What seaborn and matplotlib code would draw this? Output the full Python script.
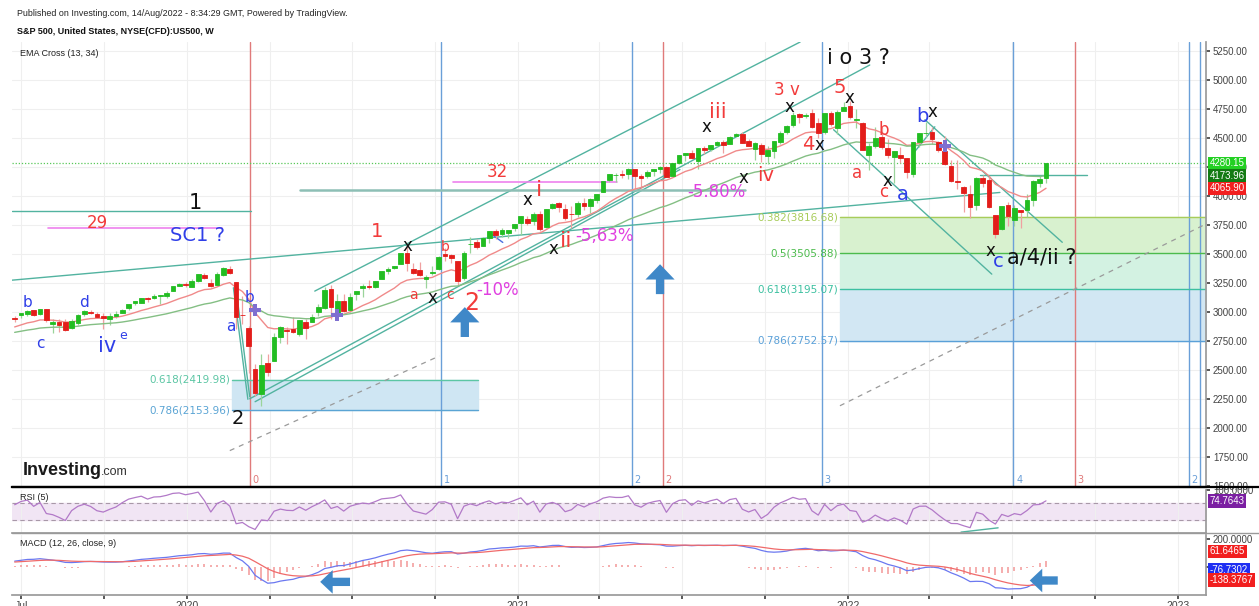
import numpy as np
import pandas as pd
import seaborn as sns
import matplotlib.pyplot as plt
import matplotlib.dates as mdates
import matplotlib.transforms as mtransforms
from matplotlib.lines import Line2D
from matplotlib.ticker import FixedLocator, FuncFormatter

# weekly US500 candles, first week starts 2019-06-24, last week 2022-08-08
first_week = "2019-06-24"
open_ = [2951, 2971, 2980, 3017, 2981, 3024, 2899, 2916, 2913, 2866, 2909, 2988, 3001, 2984,
         2967, 2944, 2965, 2996, 3032, 3078, 3080, 3118, 3118, 3143, 3141, 3183, 3223,
         3240, 3217, 3271, 3321, 3248, 3236, 3318, 3370, 3258, 2974, 2864, 2509, 2291,
         2559, 2578, 2782, 2845, 2854, 2815, 2915, 2913, 3004, 3038, 3199, 2993, 3094,
         3018, 3155, 3205, 3224, 3219, 3288, 3356, 3380, 3418, 3509, 3371, 3363, 3285,
         3333, 3367, 3500, 3493, 3441, 3296, 3583, 3600, 3566, 3634, 3694, 3675, 3684, 3723,
         3764, 3803, 3781, 3842, 3731, 3892, 3939, 3886, 3842, 3844, 3942, 3916, 3969,
         4034, 4135, 4179, 4185, 4191, 4228, 4169, 4170, 4216, 4229, 4248, 4173, 4284,
         4356, 4372, 4297, 4409, 4406, 4437, 4461, 4450, 4514, 4535, 4474, 4402, 4442,
         4348, 4385, 4463, 4553, 4610, 4701, 4689, 4712, 4628, 4548, 4710, 4587, 4733,
         4778, 4655, 4632, 4356, 4432, 4505, 4412, 4332, 4354, 4328, 4188, 4462, 4541,
         4547, 4462, 4385, 4255, 4130, 4081, 4013, 3919, 4151, 4134, 3838, 3715, 3920,
         3792, 3880, 3883, 3965, 4112, 4155]
high = [2964, 2996, 3018, 3018, 3028, 3029, 2944, 2943, 2939, 2940, 2986, 3021, 3022, 2999,
        2993, 2993, 3008, 3027, 3067, 3098, 3121, 3128, 3154, 3150, 3183, 3226, 3248,
        3258, 3283, 3330, 3338, 3286, 3348, 3385, 3394, 3260, 3137, 2883, 2554, 2637,
        2641, 2819, 2879, 2870, 2955, 2932, 2945, 2980, 3069, 3212, 3233, 3156, 3155,
        3166, 3186, 3238, 3279, 3272, 3353, 3388, 3400, 3509, 3588, 3426, 3429, 3320,
        3397, 3485, 3550, 3502, 3441, 3529, 3646, 3629, 3644, 3700, 3712, 3727, 3711, 3760,
        3827, 3824, 3862, 3871, 3889, 3937, 3950, 3929, 3915, 3960, 3984, 3978, 4021,
        4130, 4191, 4194, 4219, 4238, 4236, 4189, 4220, 4234, 4255, 4258, 4286, 4355,
        4373, 4394, 4416, 4430, 4441, 4469, 4480, 4513, 4546, 4550, 4493, 4465, 4458,
        4430, 4476, 4560, 4608, 4719, 4715, 4718, 4744, 4673, 4714, 4732, 4741, 4809,
        4819, 4749, 4633, 4453, 4595, 4590, 4490, 4385, 4417, 4328, 4466, 4546, 4637,
        4594, 4471, 4513, 4309, 4308, 4082, 4091, 4159, 4178, 4169, 3838, 3914, 3946,
        3919, 3881, 4013, 4141, 4168, 4281]
low = [2912, 2952, 2964, 2966, 2975, 2914, 2822, 2826, 2834, 2853, 2892, 2963, 2985, 2946,
       2855, 2892, 2952, 2991, 3020, 3065, 3075, 3091, 3115, 3070, 3125, 3183, 3222,
       3212, 3215, 3263, 3282, 3215, 3235, 3315, 3328, 2856, 2901, 2479, 2281, 2192,
       2448, 2576, 2730, 2727, 2817, 2797, 2767, 2913, 2969, 3025, 2937, 2966, 3000,
       3000, 3101, 3128, 3200, 3204, 3284, 3329, 3369, 3414, 3350, 3329, 3313, 3210,
       3323, 3361, 3440, 3420, 3234, 3280, 3512, 3543, 3565, 3594, 3633, 3648, 3637, 3694,
       3663, 3750, 3749, 3694, 3725, 3884, 3866, 3789, 3723, 3819, 3883, 3854, 3936,
       4034, 4118, 4118, 4156, 4142, 4057, 4061, 4155, 4168, 4198, 4164, 4173, 4271,
       4300, 4321, 4233, 4360, 4385, 4421, 4368, 4450, 4513, 4458, 4428, 4306, 4289,
       4279, 4330, 4448, 4537, 4595, 4630, 4673, 4585, 4495, 4532, 4600, 4531, 4733,
       4663, 4582, 4395, 4223, 4414, 4401, 4327, 4115, 4280, 4158, 4162, 4424, 4506,
       4450, 4381, 4268, 4124, 4063, 3859, 3810, 3875, 4074, 3900, 3637, 3706, 3739,
       3742, 3722, 3819, 3911, 4080, 4112]
close = [2941.76, 2990.41, 3013.77, 2976.61, 3025.86, 2932.05, 2918.65, 2888.68, 2847.11,
         2926.46, 2978.71, 3007.39, 2992.07, 2961.79, 2952.01, 2970.27, 2986.20, 3022.55,
         3066.91, 3093.08, 3120.46, 3110.29, 3140.98, 3145.91, 3168.80, 3221.22, 3240.02,
         3234.85, 3265.35, 3329.62, 3295.47, 3225.52, 3327.71, 3380.16, 3337.75, 2954.22,
         2972.37, 2711.02, 2304.92, 2541.47, 2488.65, 2789.82, 2874.56, 2836.74, 2830.71,
         2929.80, 2863.70, 2955.45, 3044.31, 3193.93, 3041.31, 3097.74, 3009.05, 3130.01,
         3185.04, 3224.73, 3215.63, 3271.12, 3351.28, 3372.85, 3397.16, 3508.01, 3426.96,
         3340.97, 3319.47, 3298.46, 3348.44, 3477.13, 3483.81, 3465.39, 3269.96, 3509.44,
         3585.15, 3557.54, 3638.35, 3699.12, 3663.46, 3709.41, 3703.06, 3756.07,
         3824.68, 3768.25, 3841.47, 3714.24, 3886.83, 3934.83, 3906.71, 3811.15, 3841.94,
         3943.34, 3913.10, 3974.54, 4019.87, 4128.80, 4185.47, 4180.17, 4181.17, 4232.60,
         4173.85, 4155.86, 4204.11, 4229.89, 4247.44, 4166.45, 4280.70, 4352.34, 4369.55,
         4327.16, 4411.79, 4395.26, 4436.52, 4468.00, 4441.67, 4509.37, 4535.43, 4458.58,
         4432.99, 4455.48, 4357.04, 4391.34, 4471.37, 4544.90, 4605.38, 4697.53, 4682.85,
         4697.96, 4594.62, 4538.43, 4712.02, 4620.64, 4725.79, 4766.18,
         4677.03, 4662.85, 4397.94, 4431.85, 4500.53, 4418.64, 4348.87, 4384.65, 4328.87,
         4204.31, 4463.12, 4543.06, 4545.86, 4488.28, 4392.59, 4271.78, 4131.93, 4123.34,
         4023.89, 3901.36, 4158.24, 4108.54, 3900.86, 3674.84, 3911.74, 3825.33, 3899.38,
         3863.16, 3961.63, 4130.29, 4145.19, 4280.15]
# weekly closes Oct 2018 - Jun 2019, only used to warm up the indicators
warmup_close = [2885.57, 2767.13, 2767.78, 2658.69, 2723.06, 2781.01, 2736.27, 2632.56,
                2760.17, 2633.08, 2599.95, 2416.62, 2485.74, 2531.94, 2596.26, 2670.71,
                2664.76, 2706.53, 2707.88, 2775.60, 2792.67, 2803.69, 2743.07, 2822.48,
                2800.71, 2834.40, 2892.74, 2907.41, 2905.03, 2939.88, 2945.64, 2881.40,
                2859.53, 2826.06, 2752.06, 2873.34, 2886.98, 2950.46]

last_price = 4280.15
ema_tags = [4173.96, 4065.90]
rsi_tag = 74.7643
macd_tags = ["61.6465", "-76.7302", "-138.3767"]
macd_tag_y = [112, -22, -98]

# time cycle lines
cycle_dates = ["2020-03-10", "2020-10-08", "2021-05-07", "2021-06-10", "2021-12-03",
               "2022-07-03", "2022-09-09", "2023-01-13", "2023-01-25"]
cycle_labels = ["0", "1", "2", "2", "3", "4", "3", "2", ""]
cycle_kind = ["r", "b", "b", "r", "b", "b", "r", "b", "b"]

# fibonacci retracements
fib_left_ratio = ["0.618", "0.786"]
fib_left_level = [2419.98, 2153.96]
fib_left_span = ["2020-02-19", "2020-11-18"]
fib_right_ratio = ["0.382", "0.5", "0.618", "0.786"]
fib_right_level = [3816.68, 3505.88, 3195.07, 2752.57]
fib_right_start = "2021-12-23"

# drawn trend lines: (date1, price1, date2, price2)
teal_lines = [("2019-06-21", 3869, "2020-03-11", 3869),
              ("2022-05-27", 4178, "2022-09-22", 4178),
              ("2019-06-21", 3275, "2022-06-18", 4030),
              ("2020-05-21", 3181, "2021-11-09", 5325),
              ("2020-03-10", 2254, "2022-01-25", 5127),
              ("2020-03-16", 2229, "2021-06-29", 4227),
              ("2020-02-25", 3137, "2020-03-10", 2272),
              ("2020-02-21", 3210, "2020-03-08", 2250),
              ("2021-12-16", 4570, "2022-06-09", 3327),
              ("2022-03-27", 4656, "2022-08-26", 3601),
              ("2022-03-13", 4355, "2022-04-07", 4595)]
grey_teal_lines = [("2020-05-05", 4051, "2021-09-09", 4051)]
magenta_lines = [("2019-07-31", 3723, "2020-02-08", 3723),
                 ("2020-10-21", 4124, "2021-04-20", 4124)]
dashed_lines = [("2021-12-23", 2194, "2023-01-31", 3755),
                ("2020-02-17", 1808, "2020-10-06", 2623)]
blue_lines = [("2020-12-03", 3668, "2020-12-15", 3600)]

# wave labels: (text, date, price, colour, size)
RED, BLUE, MAG, BLK = "#f23b3b", "#2f3fe8", "#e040e0", "#111111"
wave_labels = [
    ("1", "2020-01-10", 3935, BLK, 15), ("29", "2019-09-23", 3764, RED, 12),
    ("SC1 ?", "2020-01-12", 3661, BLUE, 14),
    ("b", "2019-07-08", 3086, BLUE, 11), ("c", "2019-07-22", 2726, BLUE, 11),
    ("d", "2019-09-09", 3086, BLUE, 11), ("iv", "2019-10-04", 2709, BLUE, 15),
    ("e", "2019-10-22", 2795, BLUE, 9),
    ("a", "2020-02-18", 2880, BLUE, 11), ("b", "2020-03-10", 3129, BLUE, 11),
    ("2", "2020-02-26", 2083, BLK, 14), ("1", "2020-07-29", 3695, RED, 14),
    ("b", "2020-10-12", 3558, RED, 10), ("a", "2020-09-07", 3146, RED, 10),
    ("c", "2020-10-18", 3146, RED, 10), ("2", "2020-11-11", 3078, RED, 17),
    ("-10%", "2020-12-09", 3189, MAG, 12), ("32", "2020-12-09", 4210, RED, 12),
    ("i", "2021-01-24", 4055, RED, 16), ("ii", "2021-02-23", 3609, RED, 16),
    ("-5,63%", "2021-04-06", 3652, MAG, 12), ("-5.80%", "2021-08-08", 4030, MAG, 12),
    ("iii", "2021-08-10", 4724, RED, 15), ("iv", "2021-10-02", 4175, RED, 14),
    ("3", "2021-10-17", 4913, RED, 12), ("v", "2021-11-03", 4913, RED, 12),
    ("4", "2021-11-18", 4441, RED, 14), ("5", "2021-12-23", 4930, RED, 14),
    ("i o 3 ?", "2022-01-12", 5187, BLK, 15),
    ("a", "2022-01-11", 4200, RED, 12), ("b", "2022-02-09", 4570, RED, 12),
    ("c", "2022-02-09", 4038, RED, 12), ("a", "2022-03-03", 4012, BLUE, 14),
    ("b", "2022-03-24", 4681, BLUE, 14), ("c", "2022-06-16", 3438, BLUE, 14),
    ("a/4/ii ?", "2022-08-03", 3472, BLK, 15),
]
x_marks = [("2020-09-01", 3573), ("2020-09-28", 3120), ("2021-01-11", 3969),
           ("2021-02-09", 3541), ("2021-07-28", 4595), ("2021-09-07", 4158),
           ("2021-10-28", 4767), ("2021-11-30", 4441), ("2022-01-03", 4844),
           ("2022-02-14", 4132), ("2022-04-04", 4724), ("2022-06-07", 3524)]
# big blue arrows: (date, tail price, tip price)
up_arrows = [("2020-11-03", 2786, 3043), ("2021-06-07", 3155, 3412)]
# arrows in the MACD pane: (tip date, tail date, value)
macd_arrows = [("2020-05-27", "2020-06-29", -110), ("2022-07-21", "2022-08-21", -100)]
rsi_line = [("2022-05-06", 2, "2022-06-16", 12)]


def dn(s):
    return mdates.date2num(pd.Timestamp(s))


sns.set_theme(style="white")
plt.rcParams["font.family"] = ["DejaVu Sans"]

dates = pd.date_range(first_week, periods=len(close), freq="W-MON")
xd = mdates.date2num(dates)
o, h, l, c = (np.array(v, dtype=float) for v in (open_, high, low, close))
n_warm = len(warmup_close)
full = pd.Series(warmup_close + close, dtype=float)
ema13 = full.ewm(span=13, adjust=False).mean().to_numpy()[n_warm:]
ema34 = full.ewm(span=34, adjust=False).mean().to_numpy()[n_warm:]
delta = full.diff()
gain = delta.clip(lower=0).ewm(alpha=1 / 5, adjust=False).mean()
loss = (-delta.clip(upper=0)).ewm(alpha=1 / 5, adjust=False).mean()
rsi = (100 - 100 / (1 + gain / loss)).to_numpy()[n_warm:]
macd_full = full.ewm(span=12, adjust=False).mean() - full.ewm(span=26, adjust=False).mean()
signal_full = macd_full.ewm(span=9, adjust=False).mean()
macd = macd_full.to_numpy()[n_warm:]
signal = signal_full.to_numpy()[n_warm:]
hist = macd - signal

fig = plt.figure(figsize=(12.59, 6.06), dpi=100)
L, W = 0.0095, 0.9484
ax = fig.add_axes([L, 0.1964, W, 0.7343])
ax_rsi = fig.add_axes([L, 0.1205, W, 0.0709], sharex=ax)
ax_macd = fig.add_axes([L, 0.0182, W, 0.099], sharex=ax)

x0, x1 = dn("2019-06-21"), dn("2023-02-01")
quarters = mdates.date2num(pd.date_range("2019-07-01", "2023-01-01", freq="QS"))

for a in (ax, ax_rsi, ax_macd):
    a.set_xlim(x0, x1)
    a.set_facecolor("white")
    a.xaxis.set_major_locator(FixedLocator(quarters))
    a.grid(True, axis="x", color="#efefef", lw=0.8)
    a.yaxis.tick_right()
    for s in ("top", "left"):
        a.spines[s].set_visible(False)
    a.spines["right"].set_color("#9a9a9a")
    a.spines["bottom"].set_color("#9a9a9a")
    a.tick_params(axis="y", labelsize=7, colors="#444", length=3, pad=2, direction="out",
                  right=True, left=False)

# ---- price pane
ax.set_ylim(1495, 5325)
ax.set_yticks(np.arange(1500, 5251, 250))
ax.set_yticklabels([f"{v:.2f}" for v in np.arange(1500, 5251, 250)], family="Liberation Sans")
ax.grid(True, axis="y", color="#efefef", lw=0.8)
ax.tick_params(axis="x", labelbottom=False, length=0)
ax.spines["bottom"].set_color("black")
ax.spines["bottom"].set_linewidth(1.6)

# fib boxes
fl0, fl1 = dn(fib_left_span[0]), dn(fib_left_span[1])
ax.fill_between([fl0, fl1], fib_left_level[1], fib_left_level[0], color="#cfe6f3", zorder=1)
left_cols = ["#5cc6a4", "#5aa4d4"]
for r, lev, col in zip(fib_left_ratio, fib_left_level, left_cols):
    ax.plot([fl0, fl1], [lev, lev], color=col, lw=1, zorder=2)
    ax.text(fl0 - 2, lev, f"{r}({lev:.2f})", color=col, ha="right", va="center", fontsize=7.5)

fr0 = dn(fib_right_start)
right_cols = ["#a8cc5a", "#4cbb4c", "#3cc0a0", "#5aa0d8"]
fill_cols = ["#d8f1cf", "#d3f2e2", "#d2e7f3"]
for i in range(3):
    ax.fill_between([fr0, x1], fib_right_level[i + 1], fib_right_level[i], color=fill_cols[i], zorder=1)
for r, lev, col in zip(fib_right_ratio, fib_right_level, right_cols):
    ax.plot([fr0, x1], [lev, lev], color=col, lw=1, zorder=2)
    ax.text(fr0 - 2, lev, f"{r}({lev:.2f})", color=col, ha="right", va="center", fontsize=7.5)

# time cycle lines
for d, lab, k in zip(cycle_dates, cycle_labels, cycle_kind):
    col = "#e07a7a" if k == "r" else "#6a9fd8"
    ax.axvline(dn(d), color=col, lw=1, zorder=1.5)
    ax.text(dn(d) + 3, 1555, lab, color=col, fontsize=7, ha="left", va="center")

# last price line
ax.axhline(last_price, color="#58c858", lw=0.9, ls=(0, (1, 1.5)), zorder=1.5)

# trend lines
for d1, p1, d2, p2 in teal_lines:
    ax.plot([dn(d1), dn(d2)], [p1, p2], color="#52b3a0", lw=1, zorder=2.5)
for d1, p1, d2, p2 in grey_teal_lines:
    ax.plot([dn(d1), dn(d2)], [p1, p2], color="#8dbfb5", lw=1.8, zorder=2.5)
for d1, p1, d2, p2 in magenta_lines:
    ax.plot([dn(d1), dn(d2)], [p1, p2], color="#ee82ee", lw=1.2, zorder=2.5)
for d1, p1, d2, p2 in dashed_lines:
    ax.plot([dn(d1), dn(d2)], [p1, p2], color="#9a9a9a", lw=0.9, ls=(0, (4, 4)), zorder=2.5)
for d1, p1, d2, p2 in blue_lines:
    ax.plot([dn(d1), dn(d2)], [p1, p2], color="#4a6ee0", lw=1, zorder=2.5)

# candles
up = c >= o
body_col = np.where(up, "#22bd22", "#e31d1a")
wick_col = np.where(up, "#9ad49a", "#f0a0a0")
ax.vlines(xd, l, h, colors=wick_col, lw=0.9, zorder=3)
ax.bar(xd, c - o, bottom=o, width=5.2, color=body_col, edgecolor=body_col, lw=0.6, zorder=4)

# EMA cross lines
sns.lineplot(x=xd, y=ema13, ax=ax, color="#f08a8a", lw=1, zorder=3.5)
sns.lineplot(x=xd, y=ema34, ax=ax, color="#84bf84", lw=1, zorder=3.5)
diff = ema13 - ema34
cross = np.where(np.sign(diff[1:]) != np.sign(diff[:-1]))[0] + 1
ax.scatter(xd[cross], (ema13[cross] + ema34[cross]) / 2, marker="P", s=70,
           color="#7f6fd0", zorder=5, linewidths=0)

for txt, d, p, col, fs in wave_labels:
    ax.text(dn(d), p, txt, color=col, fontsize=fs, ha="center", va="center", zorder=6)
for d, p in x_marks:
    ax.text(dn(d), p, "x", color=BLK, fontsize=12, ha="center", va="center", zorder=6)
for d, p0, p1 in up_arrows:
    ax.annotate("", xy=(dn(d), p1), xytext=(dn(d), p0),
                arrowprops=dict(width=6, headwidth=21, headlength=11, color="#3f88c8", lw=0),
                zorder=6)

ax.text(0.0067, 0.985, "EMA Cross (13, 34)", transform=ax.transAxes, fontsize=6.5,
        family="Liberation Sans", color="#222", va="top")

tag = mtransforms.blended_transform_factory(ax.transAxes, ax.transData)
for val, col in zip([last_price] + ema_tags, ["#22d022", "#137a13", "#f21f1f"]):
    ax.text(1.003, val, f"{val:.2f}", transform=tag, color="white", fontsize=7,
            family="Liberation Sans", va="center", ha="left", clip_on=False,
            bbox=dict(boxstyle="square,pad=0.18", fc=col, ec="none"))

# ---- RSI pane
ax_rsi.set_ylim(0, 100)
ax_rsi.fill_between([x0, x1], 30, 70, color="#f1e5f4", zorder=0)
for lev in (30, 70):
    ax_rsi.axhline(lev, color="#a898a8", lw=0.8, ls=(0, (4, 3)))
sns.lineplot(x=xd, y=rsi, ax=ax_rsi, color="#b279c8", lw=0.9)
for d1, v1, d2, v2 in rsi_line:
    ax_rsi.plot([dn(d1), dn(d2)], [v1, v2], color="#52b3a0", lw=1)
ax_rsi.set_yticks([100])
ax_rsi.set_yticklabels(["100.0000"], family="Liberation Sans")
ax_rsi.tick_params(axis="x", labelbottom=False, length=0)
ax_rsi.text(0.0067, 0.92, "RSI (5)", transform=ax_rsi.transAxes, fontsize=6.5,
            family="Liberation Sans", color="#222", va="top")
tag_r = mtransforms.blended_transform_factory(ax_rsi.transAxes, ax_rsi.transData)
ax_rsi.text(1.003, rsi_tag, f"{rsi_tag:.4f}", transform=tag_r, color="white", fontsize=7,
            family="Liberation Sans", va="center", ha="left", clip_on=False,
            bbox=dict(boxstyle="square,pad=0.18", fc="#7b1fa2", ec="none"))

# ---- MACD pane
ax_macd.set_ylim(-205, 230)
ax_macd.vlines(xd, 0, hist, colors="#f3a0a0", lw=1.2)
sns.lineplot(x=xd, y=macd, ax=ax_macd, color="#6b78f0", lw=0.9)
sns.lineplot(x=xd, y=signal, ax=ax_macd, color="#f06a6a", lw=0.9)
ax_macd.set_yticks([0, 200])
ax_macd.set_yticklabels(["0.0000", "200.0000"], family="Liberation Sans")
ax_macd.text(0.0067, 0.93, "MACD (12, 26, close, 9)", transform=ax_macd.transAxes,
             fontsize=6.5, family="Liberation Sans", color="#222", va="top")
for tip, tail, v in macd_arrows:
    ax_macd.annotate("", xy=(dn(tip), v), xytext=(dn(tail), v),
                     arrowprops=dict(width=6, headwidth=17, headlength=9, color="#3f88c8", lw=0))
tag_m = mtransforms.blended_transform_factory(ax_macd.transAxes, ax_macd.transData)
for txt, v, col in zip(macd_tags, macd_tag_y, ["#f21f1f", "#1f2ff2", "#f21f1f"]):
    ax_macd.text(1.003, v, txt, transform=tag_m, color="white", fontsize=7,
                 family="Liberation Sans", va="center", ha="left", clip_on=False,
                 bbox=dict(boxstyle="square,pad=0.18", fc=col, ec="none"))


def fmt_date(v, pos):
    d = mdates.num2date(v)
    if d.month == 1:
        return str(d.year)
    if d.month == 7 and d.year == 2019:
        return "Jul"
    return ""


ax_macd.xaxis.set_major_formatter(FuncFormatter(fmt_date))
ax_macd.tick_params(axis="x", labelsize=7.5, colors="#444", length=3, pad=1, bottom=True)
for t in ax_macd.get_xticklabels():
    t.set_family("Liberation Sans")

# separators running under the price scale
fig.add_artist(Line2D([L, 1], [0.1964, 0.1964], color="black", lw=1.6, transform=fig.transFigure))
fig.add_artist(Line2D([L, 1], [0.1205, 0.1205], color="#9a9a9a", lw=1, transform=fig.transFigure))

# header and logo
fig.text(17 / 1259, 1 - 14 / 606, "Published on Investing.com, 14/Aug/2022 - 8:34:29 GMT, "
         "Powered by TradingView.", fontsize=6.4, family="Liberation Sans", color="#222",
         va="center")
fig.text(17 / 1259, 1 - 31 / 606, "S&P 500, United States, NYSE(CFD):US500, W", fontsize=6.5,
         family="Liberation Sans", weight="bold", color="#111", va="center")
fig.text(23 / 1259, 1 - 475 / 606, "Investing", fontsize=13, family="Liberation Sans",
         weight="bold", color="#1a1a1a", va="baseline")
fig.text(101 / 1259, 1 - 475 / 606, ".com", fontsize=9, family="Liberation Sans",
         color="#333", va="baseline")

fig.savefig("out.png", dpi=100)
